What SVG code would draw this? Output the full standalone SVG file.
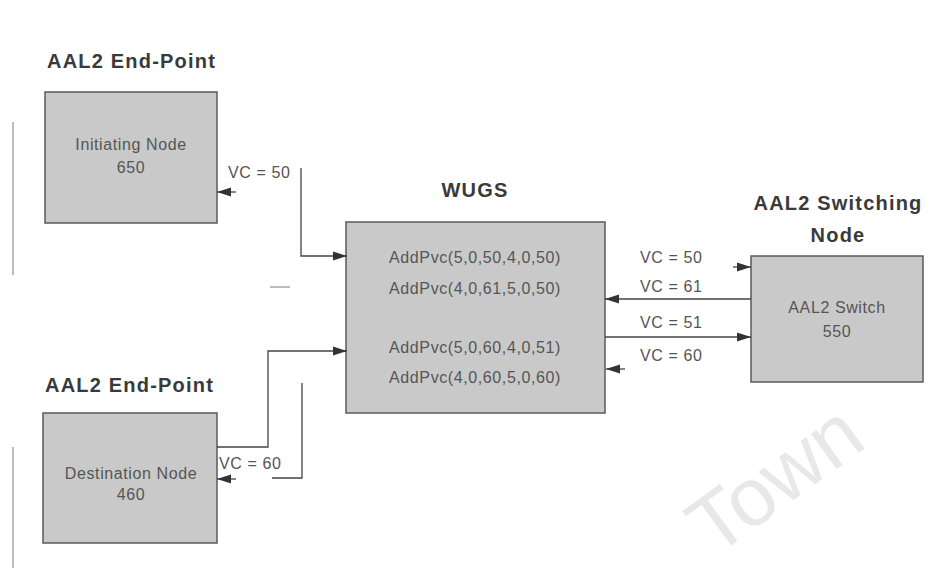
<svg xmlns="http://www.w3.org/2000/svg" width="946" height="571" viewBox="0 0 946 571">
<style>
.box{fill:#c9c9c9;stroke:#5a5a5a;stroke-width:1.5}
.t{font-family:"Liberation Sans",Arial,sans-serif;font-size:16px;letter-spacing:0.6px;fill:#555}
.h{font-family:"Liberation Sans",Arial,sans-serif;font-size:20px;letter-spacing:1.2px;font-weight:bold;fill:#3a3a3a}
.c{fill:none;stroke:#444;stroke-width:1.3}
.wm{font-family:"Liberation Sans",Arial,sans-serif;font-size:82px;fill:#e8e8e8}
</style>
<defs>
<marker id="ah" viewBox="0 0 14 10" refX="14" refY="5" markerWidth="14" markerHeight="10" markerUnits="userSpaceOnUse" orient="auto">
<path d="M0,0.5 L14,5 L0,9.5 Z" fill="#333"/>
</marker>
</defs>
<rect width="946" height="571" fill="#fff"/>
<text class="wm" x="714" y="558" transform="rotate(-36 714 558)">Town</text>
<g id="scan-marks" stroke="#999" stroke-width="1.3">
<line x1="13" y1="122" x2="13" y2="275"/>
<line x1="13" y1="447" x2="13" y2="568"/>
<line x1="270" y1="287" x2="290" y2="287"/>
</g>
<g id="initiating-node">
<text class="h" x="47" y="68">AAL2 End-Point</text>
<rect class="box" x="45" y="92" width="172" height="131"/>
<text class="t" x="131" y="150" text-anchor="middle">Initiating Node</text>
<text class="t" x="131" y="173" text-anchor="middle">650</text>
</g>
<g id="destination-node">
<text class="h" x="45" y="392">AAL2 End-Point</text>
<rect class="box" x="43" y="413" width="174" height="130"/>
<text class="t" x="131" y="479" text-anchor="middle">Destination Node</text>
<text class="t" x="131" y="500" text-anchor="middle">460</text>
</g>
<g id="wugs">
<text class="h" x="475" y="197" text-anchor="middle">WUGS</text>
<rect class="box" x="346" y="222" width="259" height="191"/>
<text class="t" x="475" y="263" text-anchor="middle">AddPvc(5,0,50,4,0,50)</text>
<text class="t" x="475" y="294" text-anchor="middle">AddPvc(4,0,61,5,0,50)</text>
<text class="t" x="475" y="353" text-anchor="middle">AddPvc(5,0,60,4,0,51)</text>
<text class="t" x="475" y="383" text-anchor="middle">AddPvc(4,0,60,5,0,60)</text>
</g>
<g id="switching-node">
<text class="h" x="838" y="210" text-anchor="middle">AAL2 Switching</text>
<text class="h" x="838" y="242" text-anchor="middle">Node</text>
<rect class="box" x="751" y="256" width="172" height="126"/>
<text class="t" x="837" y="313" text-anchor="middle">AAL2 Switch</text>
<text class="t" x="837" y="337" text-anchor="middle">550</text>
</g>
<g id="connectors">
<path class="c" d="M236,192 L217,192" marker-end="url(#ah)"/>
<path class="c" d="M301,168 L301,256 L347,256" marker-end="url(#ah)"/>
<path class="c" d="M217,447 L268,447 L268,351 L347,351" marker-end="url(#ah)"/>
<path class="c" d="M236,479 L217,479" marker-end="url(#ah)"/>
<path class="c" d="M272,478 L302,478 L302,383"/>
<path class="c" d="M733,267 L751,267" marker-end="url(#ah)"/>
<path class="c" d="M751,299 L605,299" marker-end="url(#ah)"/>
<path class="c" d="M605,337 L751,337" marker-end="url(#ah)"/>
<path class="c" d="M625,369 L606,369" marker-end="url(#ah)"/>
<text class="t" x="228" y="178">VC = 50</text>
<text class="t" x="219" y="469">VC = 60</text>
<text class="t" x="640" y="263">VC = 50</text>
<text class="t" x="640" y="292">VC = 61</text>
<text class="t" x="640" y="328">VC = 51</text>
<text class="t" x="640" y="361">VC = 60</text>
</g>
</svg>
